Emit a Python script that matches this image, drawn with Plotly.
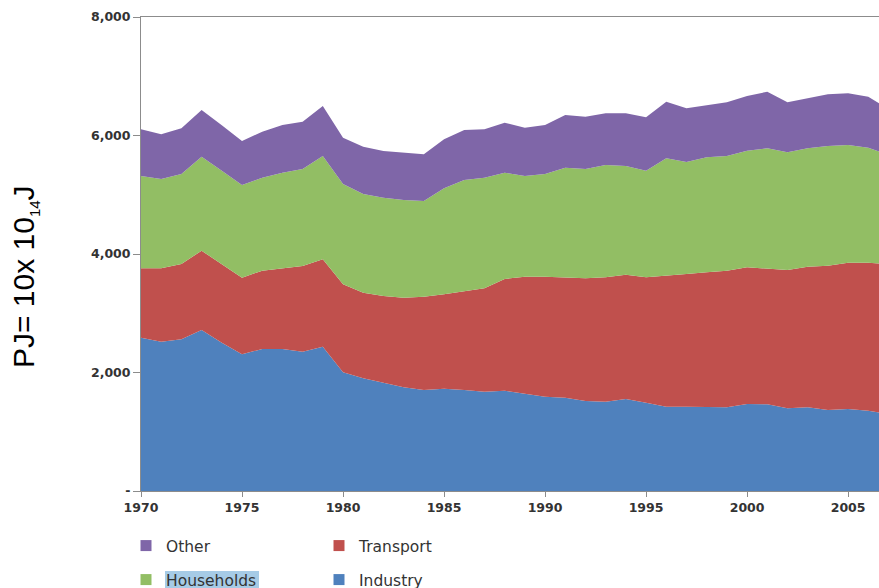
import plotly.graph_objects as go

# Consommation finale d'energie par secteur (PJ)
years = list(range(1970, 2008))

industry = [2588, 2520, 2560, 2717, 2504, 2307, 2397, 2397, 2352, 2436,
            2003, 1902, 1828, 1750, 1705, 1727, 1705, 1676, 1693, 1637,
            1592, 1575, 1519, 1507, 1553, 1490, 1423, 1423, 1423, 1412,
            1468, 1463, 1395, 1412, 1367, 1384, 1355, 1300]

transport = [1170, 1238, 1271, 1339, 1322, 1293, 1322, 1361, 1445, 1474,
             1485, 1445, 1463, 1513, 1575, 1592, 1659, 1745, 1885, 1980,
             2025, 2025, 2070, 2099, 2098, 2116, 2206, 2239, 2268, 2307,
             2307, 2295, 2335, 2374, 2436, 2469, 2498, 2530]

households = [1558, 1508, 1519, 1587, 1580, 1565, 1569, 1615, 1638, 1744,
              1693, 1666, 1660, 1648, 1615, 1789, 1885, 1867, 1795, 1699,
              1733, 1857, 1846, 1896, 1834, 1800, 1986, 1891, 1941, 1935,
              1969, 2026, 1986, 1998, 2020, 1987, 1941, 1840]

other = [789, 754, 771, 787, 766, 742, 777, 804, 798, 844,
         782, 798, 787, 799, 787, 827, 844, 817, 844, 816,
         827, 889, 883, 872, 889, 901, 956, 906, 883, 906,
         923, 955, 844, 843, 872, 872, 861, 780]

series = [
    ("Industry", industry, "#4F81BD"),
    ("Transport", transport, "#C0504D"),
    ("Households", households, "#92BE64"),
    ("Other", other, "#7F66A8"),
]

y_ticks = [0, 2000, 4000, 6000, 8000]
y_ticktext = ["-", "2,000", "4,000", "6,000", "8,000"]
x_ticks = [1970, 1975, 1980, 1985, 1990, 1995, 2000, 2005]

W, H = 879, 588
L, R, T, B = 141, 0, 17, 97
pw, ph = W - L - R, H - T - B


def px_x(p):
    return (p - L) / pw


def px_y(p):
    return (H - B - p) / ph


fig = go.Figure()

for name, vals, color in series:
    fig.add_trace(go.Scatter(
        x=years, y=vals, name=name, stackgroup="one",
        mode="lines", line=dict(width=0), fillcolor=color,
        showlegend=False, hoverinfo="x+y+name",
    ))

# legende en deux lignes (Other/Transport puis Households/Industry)
legend_rows = {"Other": "legend", "Transport": "legend",
               "Households": "legend2", "Industry": "legend2"}
colors = {n: c for n, _, c in series}
for name in ["Other", "Transport", "Households", "Industry"]:
    fig.add_trace(go.Scatter(
        x=[None], y=[None], name=name, mode="markers",
        marker=dict(symbol="square", size=11, color=colors[name]),
        legend=legend_rows[name],
    ))

legend_common = dict(
    orientation="h", xanchor="left", yanchor="middle", traceorder="normal",
    x=px_x(126), entrywidth=148, entrywidthmode="pixels",
    font=dict(family="DejaVu Sans", size=15.5, color="#333333"),
    bgcolor="rgba(0,0,0,0)", itemclick=False,
)

# surlignage autour de "Households"
fig.add_shape(
    type="rect", xref="paper", yref="paper",
    x0=px_x(165), x1=px_x(259), y0=px_y(589), y1=px_y(571),
    fillcolor="#A6CBE6", line=dict(width=0), layer="above",
)

fig.add_annotation(
    text="PJ= 10x 10<sub><span style='font-size:15px'>14</span></sub>J", textangle=-90,
    xref="paper", yref="paper", x=px_x(25), y=px_y(277),
    xanchor="center", yanchor="middle", showarrow=False,
    font=dict(family="Liberation Sans", size=30, color="#000000"),
)

fig.update_layout(
    width=W, height=H,
    margin=dict(l=L, r=R, t=T, b=B, pad=0, autoexpand=False),
    plot_bgcolor="white", paper_bgcolor="white",
    legend=dict(y=px_y(546), **legend_common),
    legend2=dict(y=px_y(580), **legend_common),
    xaxis=dict(
        range=[1970, 2006.53], tickvals=x_ticks,
        showgrid=False, zeroline=False,
        showline=True, linecolor="#8C8C8C", linewidth=1, mirror=True,
        ticks="outside", ticklen=5, tickcolor="#8C8C8C",
        tickfont=dict(family="DejaVu Sans", size=12.5, color="#333333", weight="bold"),
    ),
    yaxis=dict(
        range=[0, 8000], tickvals=y_ticks, ticktext=y_ticktext,
        showgrid=False, zeroline=False,
        showline=True, linecolor="#8C8C8C", linewidth=1,
        ticks="outside", ticklen=7, tickcolor="#8C8C8C",
        tickfont=dict(family="DejaVu Sans", size=12.5, color="#333333", weight="bold"),
    ),
)

# pas de marge autour de la page pour que le graphique remplisse la fenetre
fig.write_html("out.html", config={"displayModeBar": False},
               post_script="document.body.style.margin='0';")
